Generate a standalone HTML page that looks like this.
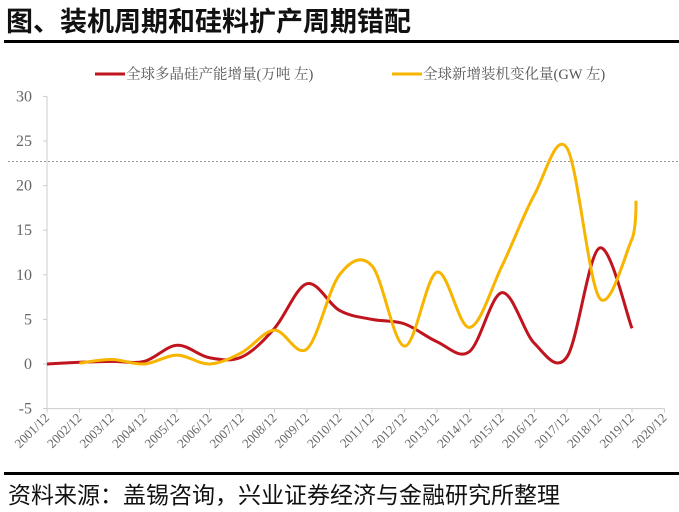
<!DOCTYPE html>
<html><head><meta charset="utf-8">
<style>
body{margin:0;background:#fff;width:679px;height:512px;overflow:hidden;font-family:"Liberation Sans","Noto Sans CJK SC",sans-serif;}
#title{position:absolute;left:6px;top:0px;font-size:27px;font-weight:bold;color:#111;letter-spacing:0px;}
#rule1{position:absolute;left:4px;top:40px;width:675px;height:3px;background:#000;}
#rule2{position:absolute;left:4px;top:472px;width:675px;height:3px;background:#000;}
#source{position:absolute;left:8px;top:476px;font-size:23px;color:#111;}
svg{position:absolute;left:0;top:0;}
</style></head><body>
<div id="title">图、装机周期和硅料扩产周期错配</div>
<div id="rule1"></div>
<svg id="chart" width="679" height="512"></svg>
<div id="rule2"></div>
<div id="source">资料来源：盖锡咨询，兴业证券经济与金融研究所整理</div>
<script>
const categories=["2001/12","2002/12","2003/12","2004/12","2005/12","2006/12","2007/12","2008/12","2009/12","2010/12","2011/12","2012/12","2013/12","2014/12","2015/12","2016/12","2017/12","2018/12","2019/12","2020/12"];
const yTicks=[-5,0,5,10,15,20,25,30];
const polysilicon=[0,0.2,0.3,0.3,2.1,0.7,0.8,4.0,9.0,6.0,5.0,4.5,2.5,1.4,8.0,2.3,0.8,13.0,4.0];
const install=[null,0.1,0.5,0.0,1.0,0.0,1.3,3.8,1.7,10.0,11.0,2.0,10.3,4.1,11.0,19.0,24.2,7.4,14.0];
const installEnd=18.3;
const refLine=22.7;
const NS="http://www.w3.org/2000/svg";
const svg=document.getElementById('chart');
const x0=47,dx=32.5;
function xs(i){return x0+i*dx;}
function ys(v){return 364-v*8.92;}
function mk(t,a){const e=document.createElementNS(NS,t);for(const k in a)e.setAttribute(k,a[k]);svg.appendChild(e);return e;}
const ya=mk('line',{x1:x0,y1:ys(30),x2:x0,y2:ys(-5),stroke:'#ccc','stroke-width':1});


const xa=mk('line',{x1:x0,y1:ys(-5),x2:xs(19),y2:ys(-5),stroke:'#ccc','stroke-width':1});


yTicks.forEach(v=>{
  mk('line',{x1:x0-4,y1:ys(v),x2:x0,y2:ys(v),stroke:'#ccc'});
  const t=mk('text',{x:32,y:ys(v)+5,'text-anchor':'end','font-size':16,fill:'#666','font-family':'Liberation Serif, serif'});
  t.textContent=v;
  
  
});
categories.forEach((c,i)=>{
  mk('line',{x1:xs(i),y1:ys(-5),x2:xs(i),y2:ys(-5)+4,stroke:'#ccc'});
  const t=mk('text',{x:xs(i)+3,y:ys(-5)+10,'text-anchor':'end','font-size':13,fill:'#666','font-family':'Liberation Serif, serif',transform:`rotate(-45 ${xs(i)+3} ${ys(-5)+10})`});
  t.textContent=c;
  
  
});
const rl=mk('line',{x1:8,y1:ys(refLine),x2:679,y2:ys(refLine),stroke:'#999','stroke-dasharray':'2,2','stroke-width':1});


function smooth(vals){
  const p=[];vals.forEach((v,i)=>{if(v!==null)p.push([xs(i),ys(v)]);});
  let d=`M${p[0][0]},${p[0][1]}`;
  for(let i=0;i<p.length-1;i++){
    const a=p[i-1]||p[i],b=p[i],c=p[i+1],e=p[i+2]||c;
    const c1=[b[0]+(c[0]-a[0])/6,b[1]+(c[1]-a[1])/6],c2=[c[0]-(e[0]-b[0])/6,c[1]-(e[1]-b[1])/6];
    d+=` C${c1[0]},${c1[1]} ${c2[0]},${c2[1]} ${c[0]},${c[1]}`;
  }
  return d;
}
const s1=mk('path',{d:smooth(polysilicon),fill:'none',stroke:'#c0141e','stroke-width':3});


const lastI=install.length-1;
const s2=mk('path',{d:smooth(install)+` Q${xs(lastI)+4},${ys(install[lastI])-10} ${xs(lastI)+4},${ys(installEnd)}`,fill:'none',stroke:'#f7b500','stroke-width':3});


const l1=mk('line',{x1:95,y1:74,x2:125,y2:74,stroke:'#c0141e','stroke-width':3});


const t1=mk('text',{x:126,y:79,'font-size':14.5,fill:'#555','font-family':'Liberation Serif, Noto Serif CJK SC, serif'});
t1.textContent='全球多晶硅产能增量(万吨 左)';


const l2=mk('line',{x1:392,y1:74,x2:422,y2:74,stroke:'#f7b500','stroke-width':3});


const t2=mk('text',{x:423,y:79,'font-size':14.5,fill:'#555','font-family':'Liberation Serif, Noto Serif CJK SC, serif'});
t2.textContent='全球新增装机变化量(GW 左)';


</script>
</body></html>
